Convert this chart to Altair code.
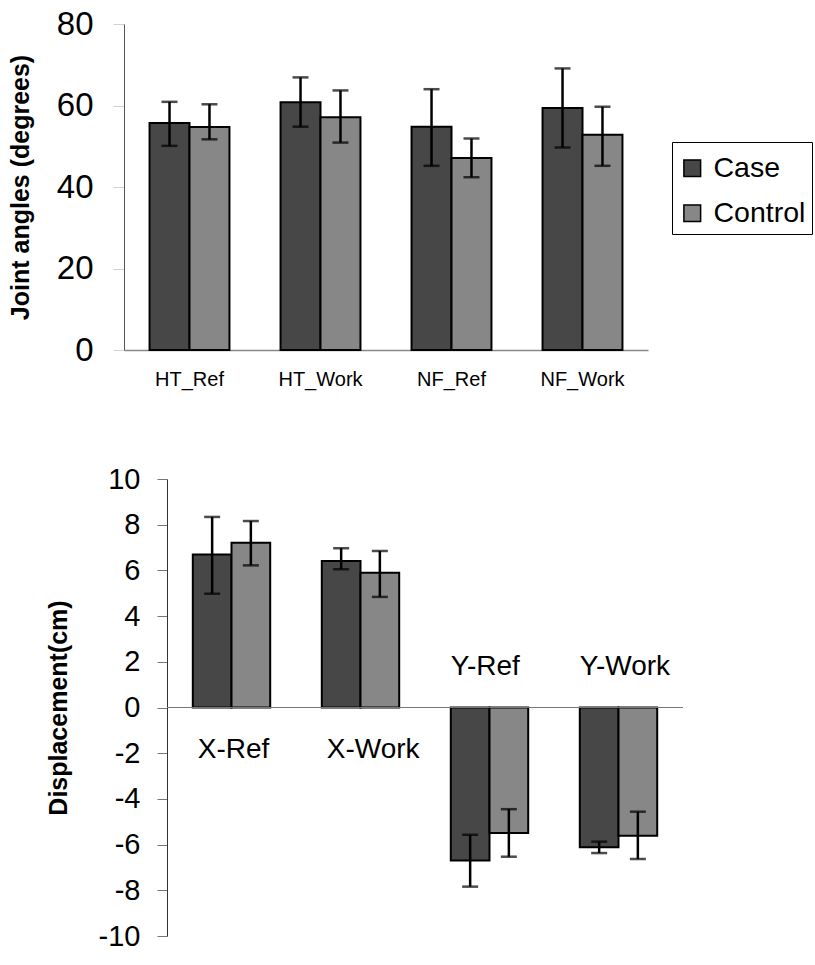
import altair as alt
import pandas as pd

FONT = "Liberation Sans"

# ---- top chart data (joint angles, degrees) ----
top_categories = ["HT_Ref", "HT_Work", "NF_Ref", "NF_Work"]
top_case = [55.7, 60.8, 54.8, 59.4]
top_case_lo = [50.1, 54.8, 45.2, 49.7]
top_case_hi = [60.9, 66.9, 64.0, 69.1]
top_control = [54.7, 57.1, 47.1, 52.8]
top_control_lo = [51.7, 50.9, 42.4, 45.2]
top_control_hi = [60.3, 63.7, 51.9, 59.7]

# ---- bottom chart data (displacement, cm) ----
bot_categories = ["X-Ref", "X-Work", "Y-Ref", "Y-Work"]
bot_case = [6.70, 6.41, -6.70, -6.12]
bot_case_lo = [4.98, 6.05, -7.84, -6.37]
bot_case_hi = [8.34, 6.97, -5.57, -5.87]
bot_control = [7.21, 5.90, -5.49, -5.61]
bot_control_lo = [6.22, 4.84, -6.53, -6.63]
bot_control_hi = [8.16, 6.85, -4.45, -4.56]

groups = ["Case", "Control"]
colors = ["#474747", "#878787"]


def build(cats, case, case_lo, case_hi, ctrl, ctrl_lo, ctrl_hi):
    rows = []
    for i, c in enumerate(cats):
        rows.append(dict(category=c, group="Case", value=case[i], lo=case_lo[i], hi=case_hi[i]))
        rows.append(dict(category=c, group="Control", value=ctrl[i], lo=ctrl_lo[i], hi=ctrl_hi[i]))
    return pd.DataFrame(rows)


top_df = build(top_categories, top_case, top_case_lo, top_case_hi,
               top_control, top_control_lo, top_control_hi)
bot_df = build(bot_categories, bot_case, bot_case_lo, bot_case_hi,
               bot_control, bot_control_lo, bot_control_hi)

xoff = alt.XOffset("group:N", sort=groups, scale=alt.Scale(paddingInner=0, paddingOuter=0))
color = alt.Color(
    "group:N",
    sort=groups,
    scale=alt.Scale(domain=groups, range=colors),
    legend=alt.Legend(
        title=" ",
        titleFontSize=2,
        titlePadding=4,
        orient="none",
        legendX=665,
        legendY=118,
        symbolType="square",
        symbolSize=280,
        symbolStrokeColor="black",
        symbolStrokeWidth=1.5,
        labelFont=FONT,
        labelFontSize=28.5,
        labelColor="black",
        labelOffset=7,
        rowPadding=16,
        padding=6,
        strokeColor="black",
        fillColor="white",
    ),
)

# ---------------- top chart ----------------
top_x = alt.X(
    "category:N",
    sort=top_categories,
    scale=alt.Scale(paddingInner=0.39, paddingOuter=0.195),
    axis=alt.Axis(
        title=None,
        labelAngle=0,
        ticks=False,
        domainColor="#888888",
        domainWidth=1.5,
        labelFont=FONT,
        labelFontSize=20,
        labelColor="black",
        labelPadding=19,
    ),
)
top_y_axis = alt.Axis(
    title="Joint angles (degrees)",
    titleFont=FONT,
    titleFontSize=25,
    titleFontWeight="bold",
    titleColor="black",
    titlePadding=23,
    values=[0, 20, 40, 60, 80],
    labelFont=FONT,
    labelFontSize=33,
    labelColor="black",
    labelPadding=20,
    tickSize=11,
    tickColor="#d0d0d0",
    domainColor="#555555",
    grid=False,
)

tbase = alt.Chart(top_df)
t_bars = tbase.mark_bar(stroke="black", strokeWidth=2).encode(
    x=top_x,
    xOffset=xoff,
    y=alt.Y("value:Q", scale=alt.Scale(domain=[0, 80]), axis=top_y_axis),
    color=color,
)
t_err = tbase.mark_rule(color="black", strokeWidth=2.5).encode(
    x=alt.X("category:N", sort=top_categories), xOffset=xoff,
    y="lo:Q", y2="hi:Q",
)
t_cap_lo = tbase.mark_tick(color="black", thickness=2.5, size=16, orient="horizontal").encode(
    x=alt.X("category:N", sort=top_categories), xOffset=xoff, y="lo:Q")
t_cap_hi = tbase.mark_tick(color="black", thickness=2.5, size=16, orient="horizontal").encode(
    x=alt.X("category:N", sort=top_categories), xOffset=xoff, y="hi:Q")

top = alt.layer(t_bars, t_err, t_cap_lo, t_cap_hi).properties(width=524, height=326)

# ---------------- bottom chart ----------------
bot_x = alt.X(
    "category:N",
    sort=bot_categories,
    scale=alt.Scale(paddingInner=0.4, paddingOuter=0.2),
    axis=None,
)
bot_y_axis = alt.Axis(
    title="Displacement(cm)",
    titleFont=FONT,
    titleFontSize=25,
    titleFontWeight="bold",
    titleColor="black",
    titlePadding=27,
    values=[-10, -8, -6, -4, -2, 0, 2, 4, 6, 8, 10],
    labelExpr="'' + datum.value",
    labelFont=FONT,
    labelFontSize=29,
    labelColor="black",
    labelPadding=17,
    tickSize=10,
    tickColor="#777777",
    domainColor="#333333",
    grid=False,
)

bbase = alt.Chart(bot_df)
b_y = alt.Y("value:Q", scale=alt.Scale(domain=[-10, 10]), axis=bot_y_axis)
b_bars = bbase.mark_bar(stroke="black", strokeWidth=2).encode(
    x=bot_x, xOffset=xoff, y=b_y, y2=alt.datum(0),
    color=alt.Color("group:N", sort=groups, scale=alt.Scale(domain=groups, range=colors), legend=None),
)
b_zero = bbase.mark_rule(color="#777777", strokeWidth=1.2).encode(
    y=alt.datum(0),
    x=alt.value(0), x2=alt.value(516),
)
b_err = bbase.mark_rule(color="black", strokeWidth=2.5).encode(
    x=bot_x, xOffset=xoff, y=alt.Y("lo:Q"), y2="hi:Q",
)
b_cap_lo = bbase.mark_tick(color="black", thickness=2.5, size=16, orient="horizontal").encode(
    x=bot_x, xOffset=xoff, y="lo:Q")
b_cap_hi = bbase.mark_tick(color="black", thickness=2.5, size=16, orient="horizontal").encode(
    x=bot_x, xOffset=xoff, y="hi:Q")

lab_df = pd.DataFrame({"category": bot_categories, "value": bot_case})
lab_x = alt.X("category:N", sort=bot_categories,
              scale=alt.Scale(paddingInner=0.4, paddingOuter=0.2),
              axis=None, bandPosition=0)
b_lab_pos = alt.Chart(lab_df).transform_filter("datum.value >= 0").mark_text(
    font=FONT, fontSize=28, align="left", baseline="alphabetic", dy=50, dx=5, color="black"
).encode(x=lab_x, y=alt.datum(0), text="category:N")
b_lab_neg = alt.Chart(lab_df).transform_filter("datum.value < 0").mark_text(
    font=FONT, fontSize=28, align="left", baseline="alphabetic", dy=-33, dx=0, color="black"
).encode(x=lab_x, y=alt.datum(0), text="category:N")

bottom = alt.layer(b_bars, b_zero, b_err, b_cap_lo, b_cap_hi, b_lab_pos, b_lab_neg).properties(
    width=516, height=457
)


def spacer(w):
    return alt.Chart(pd.DataFrame({"a": [0]})).mark_point(opacity=0, size=0).encode(
        x=alt.X("a:Q", axis=None), y=alt.Y("a:Q", axis=None)
    ).properties(width=w, height=2)


top_row = alt.hconcat(spacer(1), top, spacing=0)
bottom_row = alt.hconcat(spacer(39), bottom, spacing=0)

chart = (
    alt.vconcat(top_row, bottom_row, spacing=76)
    .resolve_scale(color="independent", x="independent", y="independent", xOffset="independent")
    .properties(padding={"left": 7, "top": 8, "right": 0, "bottom": 0}, background="white")
    .configure_view(stroke=None)
)

chart.save("out.html", embed_options={"renderer": "svg", "actions": False})
